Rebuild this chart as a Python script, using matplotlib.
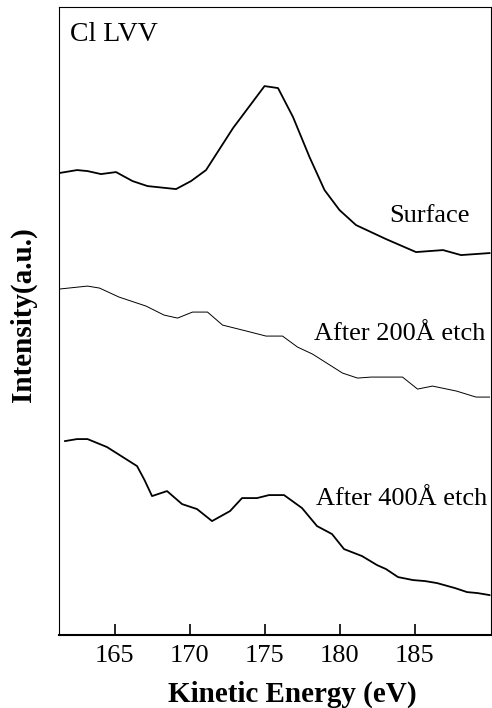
import matplotlib
matplotlib.use("Agg")
import matplotlib.pyplot as plt

# kinetic energy (eV) and intensity (a.u., offset per trace)
surface_ev = [161.3, 162.5, 163.2, 164.1, 165.1, 166.2, 167.2, 169.1, 170.1, 171.1,
              172.9, 175.0, 175.9, 176.9, 178.0, 179.0, 180.0, 181.1, 183.1, 185.1,
              186.9, 188.1, 190.0]
surface_int = [462, 465, 464, 461, 463, 454, 449, 446, 454, 465,
               507, 549, 547, 518, 478, 445, 425, 410, 396, 383,
               385, 380, 382]

etch200_ev = [161.3, 163.2, 164.0, 165.3, 167.1, 168.3, 169.2, 170.2, 171.2, 172.2,
              173.8, 175.1, 176.2, 177.2, 178.2, 180.2, 181.2, 182.1, 184.2, 185.2,
              186.2, 187.8, 189.1, 190.0]
etch200_int = [346, 349, 347, 338, 329, 320, 317, 323, 323, 310,
               304, 299, 299, 288, 281, 262, 257, 258, 258, 246,
               249, 244, 238, 238]

etch400_ev = [161.7, 162.5, 163.2, 164.5, 166.5, 167.0, 167.5, 168.5, 169.5, 170.5,
              171.5, 172.7, 173.5, 174.5, 175.3, 176.3, 177.5, 178.5, 179.5, 180.3,
              181.5, 182.5, 183.1, 183.9, 184.9, 185.7, 186.5, 187.7, 188.5, 189.2, 190.0]
etch400_int = [194, 196, 196, 188, 169, 155, 139, 144, 131, 126,
               114, 124, 137, 137, 140, 140, 127, 109, 101, 86,
               79, 70, 66, 58, 55, 54, 52, 47, 43, 42, 40]

xticks = [165, 170, 175, 180, 185]

plt.rcParams['font.family'] = ['Liberation Serif', 'DejaVu Serif']

fig = plt.figure(figsize=(4.92, 7.08), dpi=100)
ax = fig.add_axes([0.12, 0.103, 0.878, 0.887])

ax.plot(surface_ev, surface_int, color="black", lw=1.3)
ax.plot(etch200_ev, etch200_int, color="black", lw=0.7)
ax.plot(etch400_ev, etch400_int, color="black", lw=1.3)

ax.text(162.0, 594, "Cl LVV", fontsize=20)
ax.text(183.3, 413, "Surface", fontsize=19)
ax.text(178.3, 295, "After 200Å etch", fontsize=19)
ax.text(178.4, 130, "After 400Å etch", fontsize=19)

ax.set_xlim(161.3, 190.1)
ax.set_ylim(0, 628)
ax.set_xticks(xticks)
ax.set_yticks([])
ax.tick_params(axis='x', direction='in', length=8, width=1.2, labelsize=19, pad=7)
for s in ['left', 'top', 'right']:
    ax.spines[s].set_linewidth(0.8)
ax.spines['bottom'].set_linewidth(1.5)

ax.set_xlabel("Kinetic Energy (eV)", fontsize=21, fontweight='bold')
ax.xaxis.set_label_coords(0.54, -0.072)
ax.set_ylabel("Intensity(a.u.)", fontsize=21, fontweight='bold')
ax.yaxis.set_label_coords(-0.05, 0.51)

fig.savefig("out.png", dpi=100)
